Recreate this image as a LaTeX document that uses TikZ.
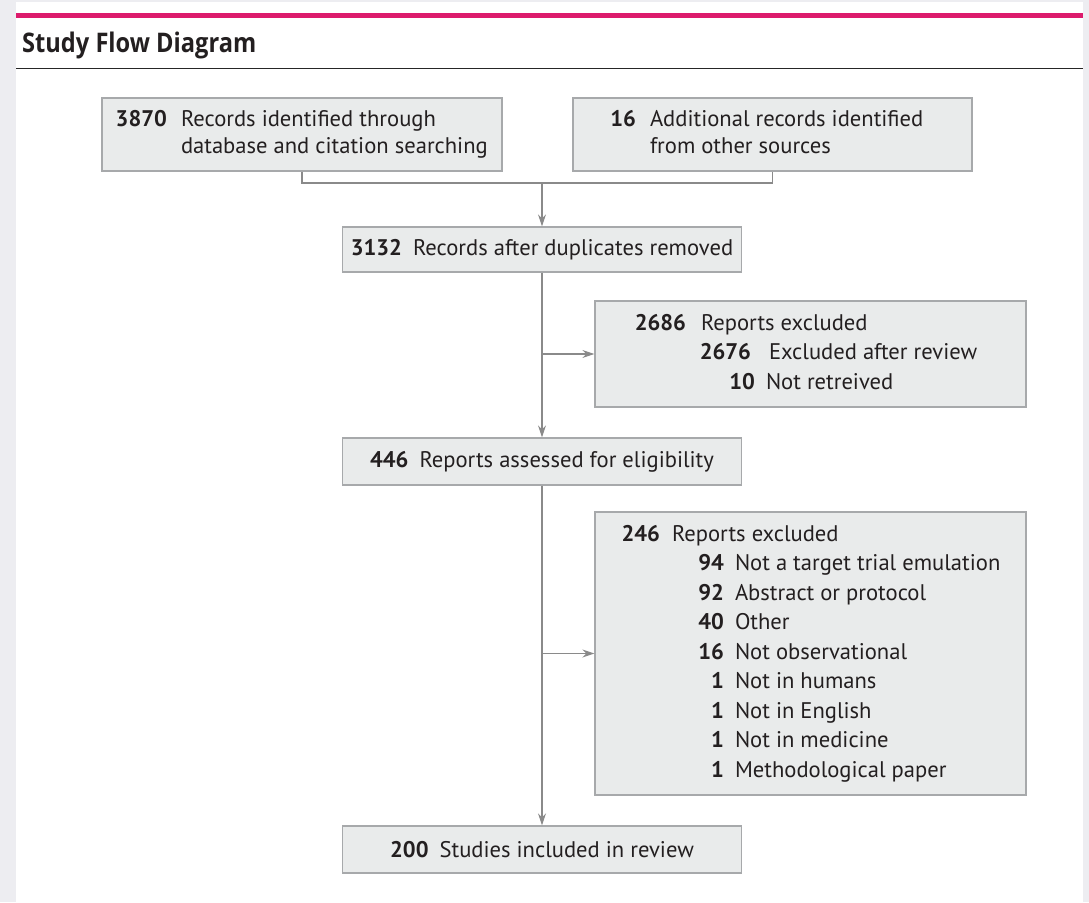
\documentclass[tikz,border=0pt]{standalone}
\usepackage{fontspec}
\setmainfont{PT Sans}
\newfontfamily\titlefont{Open Sans}
\usetikzlibrary{arrows.meta}
\definecolor{pinkline}{HTML}{DC1B6C}
\definecolor{boxfill}{HTML}{E9EBEB}
\definecolor{boxdraw}{HTML}{A7A9AB}
\definecolor{linecol}{HTML}{8A8A8A}
\definecolor{txt}{HTML}{231F20}
\definecolor{outerbg}{HTML}{EDEDF1}
\newcommand{\nm}[3]{\makebox[#1pt][r]{\bfseries #2}\hspace{#3pt}}
\newcommand{\lbox}[2]{\makebox[#1pt][l]{\begin{tabular}{@{}l@{}}#2\end{tabular}}}
\begin{document}
\begin{tikzpicture}[x=1pt,y=-1pt,
  box/.style={draw=boxdraw, fill=boxfill, line width=1.2pt, rectangle, inner ysep=0pt, text=txt},
  twoline/.style={box, font=\fontsize{22.6}{27}\selectfont},
  oneline/.style={box, inner xsep=0pt, font=\fontsize{22.6}{27}\selectfont},
  listbox/.style={box, font=\fontsize{22.6}{29.5}\selectfont},
  conn/.style={draw=linecol, line width=1.2pt},
  arr/.style={conn, -{Stealth[length=12pt,width=8pt]}}]
\useasboundingbox (0,0) rectangle (1089,902);
\fill[outerbg] (0,0) rectangle (1089,902);
\fill[white] (16,2) rectangle (1083,902);
\draw[pinkline, line width=5pt] (16,15.5) -- (1083,15.5);
\draw[black!85, line width=1.5pt] (16,68.5) -- (1083,68.5);
\node[anchor=base west, inner sep=0pt, text=txt, font=\titlefont\bfseries\fontsize{27}{30}\selectfont] (title) at (22,52) {\scalebox{0.875}[1]{Study Flow Diagram}};

\node[twoline, inner xsep=15pt, minimum height=73pt] (b1) at (302,134.5)
  {\lbox{370}{\nm{50}{3870}{14}Records identified through\\ \hspace*{64pt}database and citation searching}};
\node[twoline, inner xsep=41pt, minimum height=73pt] (b2) at (772.5,134.5)
  {\lbox{317}{\nm{22}{16}{14}Additional records identified\\ \hspace*{36pt}from other sources}};
\node[oneline, minimum width=399pt, minimum height=45pt] (b3) at (542,249.5)
  {\textbf{3132}\hspace{11pt}Records after duplicates removed};
\node[listbox, inner xsep=43pt, minimum height=106pt] (b4) at (810.5,354)
  {\lbox{345}{\nm{48}{2686}{15}Reports excluded\\ \nm{113}{2676}{18}Excluded after review\\ \nm{117}{10}{11}Not retreived}};
\node[oneline, minimum width=399pt, minimum height=47pt] (b5) at (542,461.5)
  {\textbf{446}\hspace{11pt}Reports assessed for eligibility};
\node[listbox, inner xsep=27pt, minimum height=283pt] (b6) at (810.5,653.5)
  {\lbox{377}{\nm{38}{246}{12}Reports excluded\\
   \nm{102}{94}{11}Not a target trial emulation\\
   \nm{102}{92}{11}Abstract or protocol\\
   \nm{102}{40}{11}Other\\
   \nm{102}{16}{11}Not observational\\
   \nm{102}{1}{11}Not in humans\\
   \nm{102}{1}{11}Not in English\\
   \nm{102}{1}{11}Not in medicine\\
   \nm{102}{1}{11}Methodological paper}};
\node[oneline, minimum width=399pt, minimum height=47pt] (b7) at (542,849.5)
  {\textbf{200}\hspace{11pt}Studies included in review};

\coordinate (j) at (542,183);
\draw[conn] (b1.south) |- (j) -| (b2.south);
\draw[arr] (j) -- (b3.north);
\draw[arr] (b3.south) -- (b5.north);
\coordinate (k1) at (b3.south |- b4.west);
\draw[arr] (k1) -- (b4.west);
\draw[arr] (b5.south) -- (b7.north);
\coordinate (k2) at (b5.south |- b6.west);
\draw[arr] (k2) -- (b6.west);
\end{tikzpicture}
\end{document}
